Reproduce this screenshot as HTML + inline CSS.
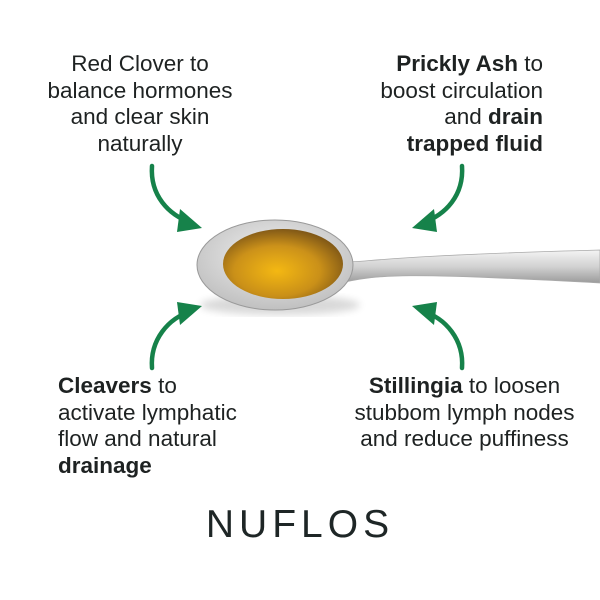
<!DOCTYPE html>
<html><head><style>
body{margin:0;width:600px;height:600px;background:#fff;position:relative;overflow:hidden;font-family:"Liberation Sans",sans-serif;color:#1e2222}
.t{position:absolute;font-size:22.5px;line-height:26.5px;white-space:nowrap}
b{font-weight:bold}
</style></head><body>
<svg width="600" height="600" style="position:absolute;left:0;top:0">
<defs>
<linearGradient id="h" x1="0" y1="0" x2="0" y2="1"><stop offset="0" stop-color="#f4f4f4"/><stop offset="0.5" stop-color="#d2d2d2"/><stop offset="1" stop-color="#9a9a9a"/></linearGradient>
<radialGradient id="o" cx="0.45" cy="0.6" r="0.6"><stop offset="0" stop-color="#f5b400"/><stop offset="0.6" stop-color="#c98a08"/><stop offset="1" stop-color="#7a4e06"/></radialGradient>
<radialGradient id="b" cx="0.5" cy="0.4" r="0.7"><stop offset="0" stop-color="#f2f2f2"/><stop offset="1" stop-color="#b8b8b8"/></radialGradient>
<filter id="s"><feGaussianBlur stdDeviation="4"/></filter>
</defs>
<ellipse cx="280" cy="305" rx="80" ry="10" fill="#000" opacity="0.15" filter="url(#s)"/>
<path d="M345 262 C370 262 380 256 600 250 L600 283 C400 272 380 275 345 282 Z" fill="url(#h)" stroke="#aaa" stroke-width="0.8"/>
<ellipse cx="275" cy="265" rx="78" ry="45" fill="url(#b)" stroke="#999" stroke-width="1"/>
<ellipse cx="283" cy="264" rx="60" ry="35" fill="url(#o)" opacity="0.92"/>
<g fill="none" stroke="#16824a" stroke-width="4.5" stroke-linecap="round">
<path d="M152 166 C150 195 168 215 192 223"/>
<path d="M462 166 C464 195 446 215 422 223"/>
<path d="M152 368 C150 340 168 318 192 311"/>
<path d="M462 368 C464 340 446 318 422 311"/>
</g>
<g fill="#16824a">
<polygon points="202,228 180,209 177,232"/>
<polygon points="412,228 434,209 437,232"/>
<polygon points="202,306 180,325 177,302"/>
<polygon points="412,306 434,325 437,302"/>
</g>
</svg>
<div class="t" style="left:30px;top:51px;width:220px;text-align:center">Red Clover to<br>balance hormones<br>and clear skin<br>naturally</div>
<div class="t" style="left:343px;top:51px;width:200px;text-align:right"><b>Prickly Ash</b> to<br>boost circulation<br>and <b>drain</b><br><b>trapped fluid</b></div>
<div class="t" style="left:58px;top:373px;width:220px"><b>Cleavers</b> to<br>activate lymphatic<br>flow and natural<br><b>drainage</b></div>
<div class="t" style="left:337px;top:373px;width:255px;text-align:center"><b>Stillingia</b> to loosen<br>stubbom lymph nodes<br>and reduce puffiness</div>
<div style="position:absolute;left:0;width:600px;top:503px;text-align:center;font-size:39px;letter-spacing:5px;color:#1e2626">NUFLOS</div>
</body></html>
